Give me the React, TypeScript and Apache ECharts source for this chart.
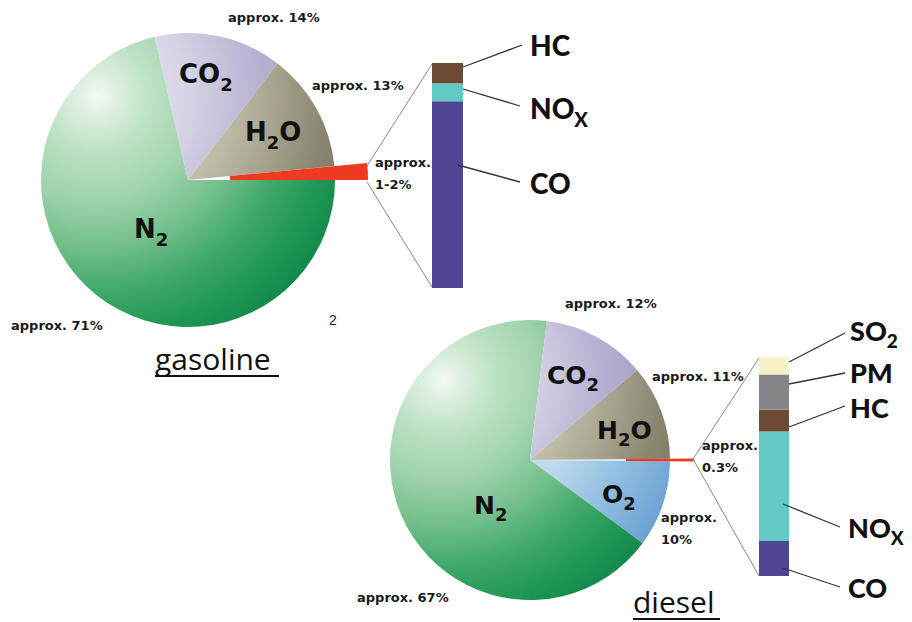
import React, { useEffect, useRef } from "react";
import * as echarts from "echarts";

// Exhaust gas composition, percent by volume ("Other" = pollutants)
const gasolineNames = ["Other", "N2", "CO2", "H2O"];
const gasolineValues = [1.5, 71, 14, 13];
const dieselNames = ["Other", "O2", "N2", "CO2", "H2O"];
const dieselValues = [0.3, 10, 67, 12, 11];

// Make-up of the pollutant fraction, stacked bottom to top
const gasolinePollutants = ["CO", "NOx", "HC"];
const gasolinePollutantShares = [83, 8, 9];
const dieselPollutants = ["CO", "NOx", "HC", "PM", "SO2"];
const dieselPollutantShares = [16, 50, 10, 16, 8];

// Captions
const gasolineCaptions = ["approx.\n1-2%", "approx. 71%", "approx. 14%", "approx. 13%"];
const dieselCaptions = ["approx.\n0.3%", "approx.\n10%", "approx. 67%", "approx. 12%", "approx. 11%"];
const formulas: Record<string, string> = {
  N2: "N_2",
  CO2: "CO_2",
  H2O: "H_2O",
  O2: "O_2",
  NOx: "NO_X",
  SO2: "SO_2",
  HC: "HC",
  CO: "CO",
  PM: "PM",
};

// ---- layout ----
const GAS = { cx: 188, cy: 180, r: 147 };
const DIE = { cx: 530, cy: 460, r: 140 };
const RED = "#ee3a22";
const GEO_FONT = "'DejaVu Sans', sans-serif";
const LABEL_FONT = "Lato, 'Open Sans', sans-serif";

const sum = (a: number[]) => a.reduce((s, v) => s + v, 0);

type Stop = [number, string];
const stopsFor: Record<string, Stop[]> = {
  N2: [
    [0, "#f4f9f4"],
    [0.08, "#dcefe0"],
    [0.2, "#bde2c5"],
    [0.38, "#a0d3ad"],
    [0.55, "#74c08b"],
    [0.72, "#3fa86a"],
    [0.88, "#1f9655"],
    [1, "#13894b"],
  ],
  CO2: [
    [0, "#eceaf3"],
    [0.35, "#d5d2e5"],
    [0.6, "#b6b2d1"],
    [0.8, "#a4a0c6"],
    [1, "#9995bd"],
  ],
  H2O: [
    [0, "#e0ddd0"],
    [0.45, "#c3c0ab"],
    [0.65, "#a8a48f"],
    [0.85, "#88856f"],
    [1, "#7b7864"],
  ],
  O2: [
    [0, "#eef5fa"],
    [0.55, "#bcd8ed"],
    [0.75, "#95c0e2"],
    [1, "#68a1d1"],
  ],
};

// spherical shading: light source at the upper left of each pie
function shade(name: string, p: { cx: number; cy: number; r: number }) {
  return {
    type: "radial",
    x: p.cx - 0.62 * p.r,
    y: p.cy - 0.57 * p.r,
    r: 1.85 * p.r,
    global: true,
    colorStops: stopsFor[name].map(([offset, color]) => ({ offset, color })),
  };
}

const barColors: Record<string, string> = {
  HC: "#6d4a36",
  NOx: "#62c9c5",
  CO: "#4e4693",
  PM: "#858589",
  SO2: "#f6f2c8",
};

function chem(key: string) {
  const f = formulas[key] ?? key;
  return f
    .split(/(_\w)/)
    .filter(Boolean)
    .map((p) => (p.startsWith("_") ? `{s|${p.slice(1)}}` : `{b|${p}}`))
    .join("");
}

function pieSeries(
  names: string[],
  values: number[],
  p: { cx: number; cy: number; r: number },
  startAngle: number,
  otherColor: string
) {
  return {
    type: "pie",
    center: [p.cx, p.cy],
    radius: [0, p.r],
    startAngle,
    clockwise: true,
    silent: true,
    label: { show: false },
    labelLine: { show: false },
    itemStyle: { borderWidth: 0 },
    data: names.map((n, i) => ({
      name: n,
      value: values[i],
      itemStyle: { color: n === "Other" ? otherColor : shade(n, p) },
    })),
  };
}

// the pollutant slice drawn again, pulled out past the rim
function pulledSlice(
  names: string[],
  values: number[],
  p: { cx: number; cy: number },
  startAngle: number,
  inner: number,
  outer: number
) {
  return {
    type: "pie",
    center: [p.cx, p.cy],
    radius: [inner, outer],
    startAngle,
    clockwise: true,
    silent: true,
    z: 3,
    label: { show: false },
    labelLine: { show: false },
    itemStyle: { borderWidth: 0 },
    data: names.map((n, i) => ({
      name: n,
      value: values[i],
      itemStyle: { color: n === "Other" ? RED : "rgba(0,0,0,0)" },
    })),
  };
}

function barSeries(names: string[], shares: number[], axis: number) {
  return names.map((n, i) => ({
    type: "bar",
    name: n,
    xAxisIndex: axis,
    yAxisIndex: axis,
    stack: "s" + axis,
    barWidth: "100%",
    silent: true,
    itemStyle: { color: barColors[n] },
    data: [shares[i]],
  }));
}

const gasStart = (360 * gasolineValues[0]) / sum(gasolineValues);
const dieStart = (180 * dieselValues[0]) / sum(dieselValues);

// text helpers
function caption(text: string, x: number, y: number) {
  return {
    type: "text",
    x,
    y,
    z: 20,
    silent: true,
    style: {
      text,
      fill: "#1a1a1a",
      font: `bold 13px ${GEO_FONT}`,
      verticalAlign: "middle",
      lineHeight: 22,
    },
  };
}

function formulaText(key: string, x: number, y: number, size: number, family: string, weight: string | number) {
  return {
    type: "text",
    x,
    y,
    z: 20,
    silent: true,
    style: {
      text: chem(key),
      fill: "#111",
      verticalAlign: "middle",
      rich: {
        b: { fontSize: size, fontWeight: weight, fontFamily: family, fill: "#111" },
        s: {
          fontSize: Math.round(size * 0.7),
          fontWeight: weight,
          fontFamily: family,
          fill: "#111",
          padding: [Math.round(size * 0.75), 0, 0, 0],
        },
      },
    },
  };
}

function seg(x1: number, y1: number, x2: number, y2: number, color: string, w: number) {
  return {
    type: "line",
    z: 15,
    silent: true,
    shape: { x1, y1, x2, y2 },
    style: { stroke: color, lineWidth: w },
  };
}

function titleWord(text: string, x: number, y: number, width: number) {
  return [
    {
      type: "text",
      x,
      y,
      z: 20,
      silent: true,
      style: { text, fill: "#111", font: `30px 'Open Sans', sans-serif`, verticalAlign: "middle" },
    },
    seg(x, y + 18, x + width, y + 18, "#111", 2),
  ];
}

const option = {
  animation: false,
  backgroundColor: "#ffffff",
  grid: [
    { left: 432, top: 63, width: 31, height: 225 },
    { left: 759, top: 357, width: 30, height: 219 },
  ],
  xAxis: [
    { type: "category", gridIndex: 0, data: ["gasoline"], show: false },
    { type: "category", gridIndex: 1, data: ["diesel"], show: false },
  ],
  yAxis: [
    { type: "value", gridIndex: 0, min: 0, max: sum(gasolinePollutantShares), show: false },
    { type: "value", gridIndex: 1, min: 0, max: sum(dieselPollutantShares), show: false },
  ],
  series: [
    pieSeries(gasolineNames, gasolineValues, GAS, gasStart, "#ffffff"),
    pulledSlice(gasolineNames, gasolineValues, GAS, gasStart, 42, 180),
    pieSeries(dieselNames, dieselValues, DIE, dieStart, "#f4f4f4"),
    pulledSlice(dieselNames, dieselValues, DIE, dieStart, 96, 164),
    ...barSeries(gasolinePollutants, gasolinePollutantShares, 0),
    ...barSeries(dieselPollutants, dieselPollutantShares, 1),
  ],
  graphic: {
    elements: [
      // slice names
      formulaText("CO2", 179, 74, 26, GEO_FONT, "bold"),
      formulaText("H2O", 245, 132, 26, GEO_FONT, "bold"),
      formulaText("N2", 134, 229, 26, GEO_FONT, "bold"),
      formulaText("CO2", 547, 375, 25, GEO_FONT, "bold"),
      formulaText("H2O", 597, 430, 25, GEO_FONT, "bold"),
      formulaText("O2", 602, 494, 25, GEO_FONT, "bold"),
      formulaText("N2", 474, 505, 25, GEO_FONT, "bold"),

      // percentages
      caption(gasolineCaptions[2], 228, 17),
      caption(gasolineCaptions[3], 312, 85),
      caption(gasolineCaptions[0], 375, 173),
      caption(gasolineCaptions[1], 11, 325),
      caption(dieselCaptions[3], 565, 303),
      caption(dieselCaptions[4], 652, 376),
      caption(dieselCaptions[0], 702, 456),
      caption(dieselCaptions[1], 661, 528),
      caption(dieselCaptions[2], 357, 597),

      // page number
      {
        type: "text",
        x: 329,
        y: 320,
        z: 20,
        silent: true,
        style: { text: "2", fill: "#222", font: "14px 'Liberation Sans', sans-serif", verticalAlign: "middle" },
      },

      // zoom-out connectors from the pollutant slices to the bars
      seg(367, 166, 432, 64, "#8a8a8a", 1),
      seg(367, 182, 432, 287, "#8a8a8a", 1),
      seg(693, 459, 759, 358, "#8a8a8a", 1),
      seg(693, 459, 759, 576, "#8a8a8a", 1),

      // bar leaders and labels, gasoline
      seg(463, 67, 522, 45, "#333", 1.3),
      seg(463, 89, 520, 106, "#333", 1.3),
      seg(458, 165, 520, 182, "#333", 1.3),
      formulaText("HC", 530, 45, 28, LABEL_FONT, 900),
      formulaText("NOx", 530, 108, 28, LABEL_FONT, 900),
      formulaText("CO", 530, 183, 28, LABEL_FONT, 900),

      // bar leaders and labels, diesel
      seg(789, 362, 845, 333, "#333", 1.3),
      seg(789, 384, 845, 373, "#333", 1.3),
      seg(789, 427, 845, 406, "#333", 1.3),
      seg(783, 504, 840, 527, "#333", 1.3),
      seg(783, 568, 840, 587, "#333", 1.3),
      formulaText("SO2", 850, 330, 27, LABEL_FONT, 900),
      formulaText("PM", 850, 372, 27, LABEL_FONT, 900),
      formulaText("HC", 850, 407, 27, LABEL_FONT, 900),
      formulaText("NOx", 848, 527, 27, LABEL_FONT, 900),
      formulaText("CO", 848, 587, 27, LABEL_FONT, 900),

      // fuel names
      ...titleWord("gasoline", 155, 358, 124),
      ...titleWord("diesel", 633, 601, 87),
    ],
  },
};

export default function App() {
  const ref = useRef<HTMLDivElement>(null);
  useEffect(() => {
    const chart = echarts.init(ref.current!, null, { renderer: "svg" });
    chart.setOption(option as any);
    return () => chart.dispose();
  }, []);
  return (
    <div
      ref={ref}
      style={{ position: "absolute", left: 0, top: 0, width: 912, height: 622, background: "#fff" }}
    />
  );
}
